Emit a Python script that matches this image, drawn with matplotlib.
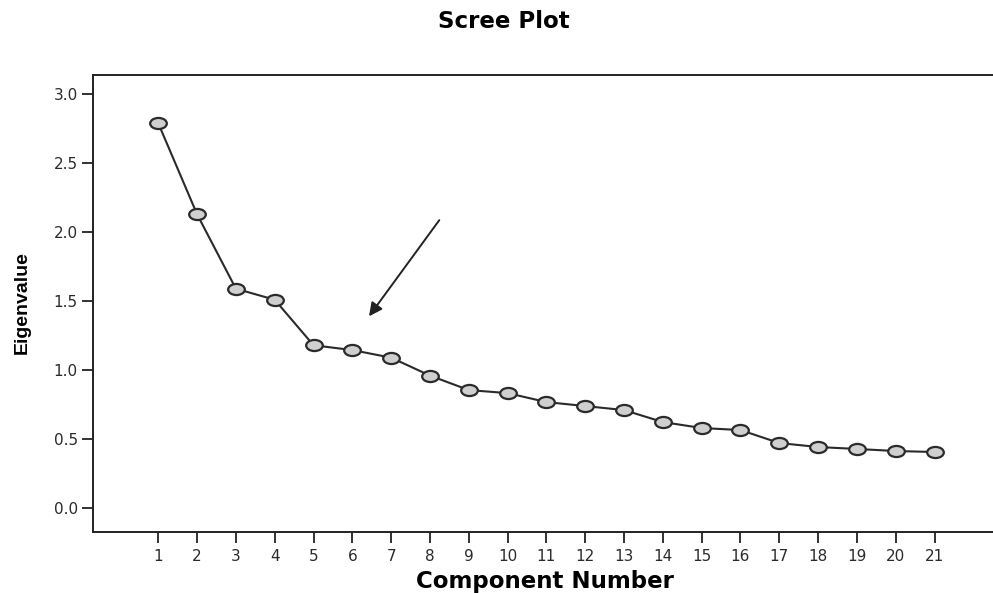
import numpy as np
import matplotlib
matplotlib.use('Agg')
import matplotlib.pyplot as plt
from matplotlib.path import Path

# eigenvalues
components = list(range(1, 22))
eigenvalues = [2.79, 2.13, 1.59, 1.51, 1.18, 1.145, 1.09, 0.96, 0.855, 0.833,
               0.768, 0.739, 0.71, 0.623, 0.58, 0.565, 0.471, 0.442, 0.428, 0.413, 0.406]
yticks = [0.0, 0.5, 1.0, 1.5, 2.0, 2.5, 3.0]

plt.rcParams['font.family'] = ['DejaVu Sans']

fig = plt.figure(figsize=(9.93, 5.93), dpi=100)
ax = fig.add_axes([0.0937, 0.1029, 0.91, 0.7707])

# ellipse marker (wider than tall)
circ = Path.unit_circle()
ell = Path(circ.vertices * np.array([1.5, 1.0]), circ.codes)

ax.plot(components, eigenvalues, color='#2a2a2a', lw=1.5, marker=ell, ms=12,
        mfc='#cfcfcf', mec='#2a2a2a', mew=1.6, zorder=3)

ax.set_xlim(-0.68, 22.6)
ax.set_ylim(-0.174, 3.14)
ax.set_xticks(components)
ax.set_yticks(yticks)
ax.set_yticklabels(['%.1f' % v for v in yticks])
ax.tick_params(axis='both', direction='out', length=8, width=1.3, color='#222222',
               labelsize=11, labelcolor='#2a2a2a')
ax.tick_params(axis='x', pad=4)
ax.tick_params(axis='y', pad=3)
for s in ['left', 'bottom', 'top']:
    ax.spines[s].set_linewidth(1.4)
    ax.spines[s].set_color('#222222')
ax.spines['right'].set_visible(False)

ax.annotate('', xy=(6.43, 1.39), xytext=(8.24, 2.087),
            arrowprops=dict(arrowstyle='-|>', color='#222222', lw=1.4,
                            mutation_scale=20, shrinkA=0, shrinkB=0))

fig.text(0.507, 0.963, 'Scree Plot', ha='center', va='center',
         fontsize=16.5, fontweight='bold')
fig.text(0.549, 0.019, 'Component Number', ha='center', va='center',
         fontsize=16.5, fontweight='bold')
fig.text(0.022, 0.49, 'Eigenvalue', ha='center', va='center', rotation=90,
         fontsize=14, fontweight='bold',
         family=['Liberation Sans Narrow', 'Liberation Sans'])

fig.savefig('out.png', dpi=100)
